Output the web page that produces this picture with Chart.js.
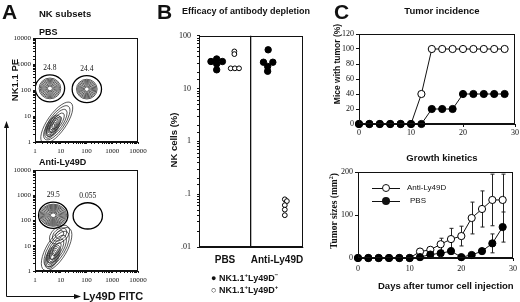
<!DOCTYPE html>
<html>
<head>
<meta charset="utf-8">
<script src="https://cdn.jsdelivr.net/npm/chart.js@4.4.1/dist/chart.umd.min.js"></script>
<style>
  html, body { margin: 0; padding: 0; background: #fff; }
  #fig { position: relative; width: 520px; height: 302px; overflow: hidden;
         font-family: "Liberation Sans", Arial, sans-serif; color: #111; }
  #fig canvas { position: absolute; }
  .t { position: absolute; white-space: nowrap; font-weight: bold; line-height: 1; }
  .letter { font-size: 21px; }
  .rot { transform: translate(-50%, -50%) rotate(-90deg); }
  .ctr { transform: translateX(-50%); }
  .key { position: absolute; }
</style>
</head>
<body>
<div id="fig">
  <canvas id="cA1" width="140" height="126" style="left:12px;top:32px"></canvas>
  <canvas id="cA2" width="140" height="123" style="left:12px;top:164px"></canvas>
  <canvas id="cB" width="136" height="245" style="left:174px;top:25px"></canvas>
  <canvas id="cC1" width="179" height="113" style="left:341px;top:27px"></canvas>
  <canvas id="cC2" width="180" height="112" style="left:340px;top:165px"></canvas>

  <svg width="520" height="302" style="position:absolute;left:0;top:0">
    <path d="M6.5 296.5 V127 M6.5 296.5 H75" stroke="#111" stroke-width="1" fill="none"/>
    <polygon points="6.5,121 4,128 9,128" fill="#111"/>
    <polygon points="81,296.5 74,294 74,299" fill="#111"/>
  </svg>

  <!-- panel A -->
  <div class="t letter" style="left:2px;top:1px">A</div>
  <div class="t" style="left:39px;top:9px;font-size:9.5px">NK subsets</div>
  <div class="t" style="left:39px;top:28px;font-size:9px">PBS</div>
  <div class="t" style="left:39px;top:158px;font-size:9px">Anti-Ly49D</div>
  <div class="t rot" style="left:15px;top:80px;font-size:9.5px">NK1.1 PE</div>
  <div class="t" style="left:83px;top:291px;font-size:11px">Ly49D FITC</div>

  <!-- panel B -->
  <div class="t letter" style="left:157px;top:1px">B</div>
  <div class="t" style="left:182px;top:7px;font-size:9px">Efficacy of antibody depletion</div>
  <div class="t rot" style="left:174px;top:140px;font-size:9.5px">NK cells (%)</div>
  <div class="t" style="left:211px;top:272px;font-size:9px">&#9679; NK1.1<sup style="font-size:6px">+</sup>Ly49D<sup style="font-size:6px">&minus;</sup></div>
  <div class="t" style="left:211px;top:284px;font-size:9px">&#9675; NK1.1<sup style="font-size:6px">+</sup>Ly49D<sup style="font-size:6px">+</sup></div>

  <!-- panel C -->
  <div class="t letter" style="left:334px;top:1px">C</div>
  <div class="t ctr" style="left:442px;top:6px;font-size:9.5px">Tumor incidence</div>
  <div class="t rot" style="left:337px;top:64px;font-size:8.5px">Mice with tumor (%)</div>
  <div class="t ctr" style="left:442px;top:153px;font-size:9.5px">Growth kinetics</div>
  <div class="t rot" style="left:334px;top:211px;font-size:9.5px;font-family:'Liberation Serif',serif">Tumor sizes (mm<sup style="font-size:6px">2</sup>)</div>
  <div class="t" style="left:378px;top:281px;font-size:9.5px">Days after tumor cell injection</div>

  <div class="key" style="left:372px;top:188px;width:28px;height:1px;background:#111"></div>
  <div class="key" style="left:382px;top:184px;width:6px;height:6px;border:1px solid #111;border-radius:50%;background:#fff"></div>
  <div class="t" style="left:407px;top:184px;font-size:8px;font-weight:normal">Anti-Ly49D</div>
  <div class="key" style="left:372px;top:201px;width:28px;height:1px;background:#111"></div>
  <div class="key" style="left:382px;top:197px;width:8px;height:8px;border-radius:50%;background:#111"></div>
  <div class="t" style="left:410px;top:197px;font-size:8px;font-weight:normal">PBS</div>
</div>

<script>
// Panel A: gates (fluorescence units) and percentages printed above them
const pbsGateX = [3.8, 103];
const pbsGateY = [116, 109];
const pbsGatePct = ['24.8', '24.4'];
const antiGateX = [5.1, 112];
const antiGateY = [163, 154];
const antiGatePct = ['29.5', '0.055'];

// Panel A: cell populations, centre in fluorescence units, spread in decades
const pbsPopX = [3.8, 103, 7, 4.8];
const pbsPopY = [116, 109, 5.5, 3.9];
const pbsPopSpread = [[0.42, 0.4], [0.4, 0.38], [0.95, 0.36], [0.5, 0.22]];
const pbsPopTilt = [0, 0, -55, -62];
const pbsPopRings = [8, 8, 5, 6];
const antiPopX = [5.1, 6.9, 4.8, 9];
const antiPopY = [163, 7.4, 3.7, 28];
const antiPopSpread = [[0.52, 0.44], [0.95, 0.4], [0.5, 0.24], [0.45, 0.3]];
const antiPopTilt = [0, -59, -65, -40];
const antiPopRings = [10, 5, 6, 3];

// Panel B: NK cells (%) per mouse, x = group index + jitter
const groups = ['PBS', 'Anti-Ly49D'];
const pbsNegX = [-0.27, -0.16, -0.05, -0.16, -0.16];
const pbsNegY = [32.6, 36.4, 32.6, 29.4, 22.7];
const pbsPosX = [0.18, 0.18, 0.11, 0.19, 0.27];
const pbsPosY = [50.6, 45, 24.2, 24.2, 24.2];
const antiNegX = [0.83, 0.74, 0.92, 0.82, 0.82];
const antiNegY = [54.3, 31.6, 31.6, 26.3, 21.3];
const antiPosX = [1.15, 1.19, 1.15, 1.15, 1.15];
const antiPosY = [0.08, 0.074, 0.062, 0.051, 0.04];

// Panel C: days after injection
const days = [0, 2, 4, 6, 8, 10, 12, 14, 16, 18, 20, 22, 24, 26, 28];
const incidencePbs = [0, 0, 0, 0, 0, 0, 0, 20, 20, 20, 40, 40, 40, 40, 40];
const incidenceAnti = [0, 0, 0, 0, 0, 0, 40, 100, 100, 100, 100, 100, 100, 100, 100];
const sizePbs = [0, 0, 0, 0, 0, 0, 2, 8, 11, 16, 2, 7, 16, 34, 72];
const sizePbsErr = [0, 0, 0, 0, 0, 0, 0, 3, 5, 7, 0, 4, 6, 22, 35];
const sizeAnti = [0, 0, 0, 0, 0, 0, 15, 19, 32, 44, 51, 93, 114, 135, 135];
const sizeAntiErr = [0, 0, 0, 0, 0, 0, 0, 0, 14, 25, 23, 37, 42, 60, 60];

const SERIF = '"Liberation Serif", "Times New Roman", serif';
const SANS = '"Liberation Sans", Arial, sans-serif';
const INK = '#111';

Chart.defaults.animation = false;
Chart.defaults.responsive = false;
Chart.defaults.plugins.legend.display = false;
Chart.defaults.plugins.tooltip.enabled = false;

// box around the plot area
const frame = {
  id: 'frame',
  afterDraw(chart) {
    const { ctx, chartArea: a } = chart;
    ctx.save();
    ctx.strokeStyle = INK;
    ctx.lineWidth = 1;
    ctx.strokeRect(Math.round(a.left) + 0.5, Math.round(a.top) + 0.5,
      Math.round(a.right - a.left) - 1, Math.round(a.bottom - a.top) - 1);
    ctx.restore();
  }
};

const isDecade = v => Math.abs(Math.log10(v) - Math.round(Math.log10(v))) < 1e-6;
const decadeLabel = v => {
  const e = Math.round(Math.log10(v));
  return e >= 0 ? String(Math.pow(10, e)) : '.' + '0'.repeat(-e - 1) + '1';
};

function fixSize(size) {
  return s => { if (s.isHorizontal()) s.height = size; else s.width = size; };
}

function logAxis(min, max, size, fontSize, pad) {
  return {
    type: 'logarithmic', min, max,
    afterFit: fixSize(size),
    border: { color: INK },
    grid: { drawOnChartArea: false, tickLength: 2, color: INK },
    ticks: {
      autoSkip: false, maxRotation: 0, color: INK, padding: pad,
      font: { family: SERIF, size: fontSize },
      callback: v => isDecade(v) ? decadeLabel(v) : ''
    }
  };
}

// contour rings for each population and the round gates
function flowLayer(popX, popY, spread, tilt, rings, gateX, gateY, gatePct) {
  return {
    id: 'flowLayer',
    afterDatasetsDraw(chart) {
      const { ctx, chartArea: a, scales: { x, y } } = chart;
      const dx = x.getPixelForValue(10) - x.getPixelForValue(1);
      const dy = y.getPixelForValue(1) - y.getPixelForValue(10);
      ctx.save();
      ctx.beginPath();
      ctx.rect(a.left, a.top, a.right - a.left, a.bottom - a.top);
      ctx.clip();
      ctx.strokeStyle = '#222';
      ctx.lineWidth = 0.75;
      popX.forEach((px, i) => {
        const cx = x.getPixelForValue(px), cy = y.getPixelForValue(popY[i]);
        for (let r = 0; r < rings[i]; r++) {
          const k = 1 - r / rings[i] * 0.88;
          ctx.beginPath();
          ctx.ellipse(cx, cy, spread[i][0] * dx * k, spread[i][1] * dy * k,
            tilt[i] * Math.PI / 180, 0, Math.PI * 2);
          ctx.stroke();
        }
      });
      ctx.strokeStyle = '#000';
      ctx.lineWidth = 1.3;
      ctx.fillStyle = INK;
      ctx.font = '7.5px ' + SERIF;
      ctx.textAlign = 'center';
      gateX.forEach((gx, i) => {
        const cx = x.getPixelForValue(gx), cy = y.getPixelForValue(gateY[i]);
        const rx = 0.57 * dx, ry = 0.52 * dy;
        ctx.beginPath();
        ctx.ellipse(cx, cy, rx, ry, 0, 0, Math.PI * 2);
        ctx.stroke();
        ctx.fillText(gatePct[i], cx, cy - ry - 5);
      });
      ctx.restore();
    }
  };
}

function flowChart(id, popX, popY, spread, tilt, rings, gateX, gateY, gatePct) {
  new Chart(document.getElementById(id), {
    type: 'scatter',
    data: { datasets: [] },
    options: {
      layout: { padding: { top: 6, right: 14 } },
      scales: {
        x: logAxis(1, 10000, 16, 7, 3),
        y: logAxis(1, 10000, 23, 7, 2)
      }
    },
    plugins: [flowLayer(popX, popY, spread, tilt, rings, gateX, gateY, gatePct), frame]
  });
}

flowChart('cA1', pbsPopX, pbsPopY, pbsPopSpread, pbsPopTilt, pbsPopRings, pbsGateX, pbsGateY, pbsGatePct);
flowChart('cA2', antiPopX, antiPopY, antiPopSpread, antiPopTilt, antiPopRings, antiGateX, antiGateY, antiGatePct);

// Panel B
const pts = (xs, ys) => xs.map((x, i) => ({ x, y: ys[i] }));
const filled = { pointRadius: 3.2, pointBackgroundColor: '#000', pointBorderColor: '#000', pointBorderWidth: 1 };
const hollow = { pointRadius: 2.4, pointBackgroundColor: '#fff', pointBorderColor: '#000', pointBorderWidth: 1 };

new Chart(document.getElementById('cB'), {
  type: 'scatter',
  data: {
    datasets: [
      { data: pts(pbsNegX, pbsNegY), ...filled },
      { data: pts(pbsPosX, pbsPosY), ...hollow },
      { data: pts(antiNegX, antiNegY), ...filled },
      { data: pts(antiPosX, antiPosY), ...hollow }
    ]
  },
  options: {
    layout: { padding: { top: 8, right: 7 } },
    scales: {
      x: {
        type: 'linear', min: -0.5, max: 1.5,
        afterFit: fixSize(23),
        afterBuildTicks: ax => { ax.ticks = [-0.5, 0, 0.5, 1, 1.5].map(value => ({ value })); },
        border: { color: INK },
        grid: {
          drawTicks: false, lineWidth: 1.3,
          color: c => c.tick && c.tick.value === 0.5 ? INK : 'rgba(0,0,0,0)'
        },
        ticks: {
          autoSkip: false, maxRotation: 0, color: INK, padding: 7,
          font: { family: SANS, size: 10, weight: 'bold' },
          callback: v => v === 0 ? groups[0] : v === 1 ? groups[1] : ''
        }
      },
      y: logAxis(0.01, 100, 25, 8, 6)
    }
  },
  plugins: [frame]
});

// Panel C
const series = vals => days.map((d, i) => ({ x: d, y: vals[i] }));
const lineStyle = { borderColor: INK, borderWidth: 1, pointRadius: 3.6, pointBorderWidth: 1,
  pointBorderColor: '#000', clip: false };

function linAxis(min, max, step, size, pad) {
  return {
    type: 'linear', min, max,
    afterFit: fixSize(size),
    border: { color: INK },
    grid: { drawOnChartArea: false, tickLength: 3, color: INK },
    ticks: { stepSize: step, color: INK, padding: pad, maxRotation: 0,
      font: { family: SERIF, size: 8 } }
  };
}

function errorBars(pairs) {
  return {
    id: 'errorBars',
    beforeDatasetsDraw(chart) {
      const { ctx, scales: { x, y } } = chart;
      ctx.save();
      ctx.strokeStyle = '#222';
      ctx.lineWidth = 1;
      pairs.forEach(([vals, errs]) => {
        days.forEach((d, i) => {
          if (!errs[i]) return;
          const px = Math.round(x.getPixelForValue(d)) + 0.5;
          const top = y.getPixelForValue(vals[i] + errs[i]);
          const bot = y.getPixelForValue(Math.max(0, vals[i] - errs[i]));
          ctx.beginPath();
          ctx.moveTo(px, bot); ctx.lineTo(px, top);
          ctx.moveTo(px - 2, top); ctx.lineTo(px + 2, top);
          ctx.moveTo(px - 2, bot); ctx.lineTo(px + 2, bot);
          ctx.stroke();
        });
      });
      ctx.restore();
    }
  };
}

new Chart(document.getElementById('cC1'), {
  type: 'line',
  data: {
    datasets: [
      { data: series(incidencePbs), ...lineStyle, pointBackgroundColor: '#000' },
      { data: series(incidenceAnti), ...lineStyle, pointBackgroundColor: '#fff' }
    ]
  },
  options: {
    layout: { padding: { top: 7, right: 5 } },
    scales: { x: linAxis(0, 30, 10, 16, 1), y: linAxis(0, 120, 20, 18, 2) }
  },
  plugins: [frame]
});

new Chart(document.getElementById('cC2'), {
  type: 'line',
  data: {
    datasets: [
      { data: series(sizePbs), ...lineStyle, pointBackgroundColor: '#000' },
      { data: series(sizeAnti), ...lineStyle, pointBackgroundColor: '#fff' }
    ]
  },
  options: {
    layout: { padding: { top: 7, right: 5 } },
    scales: { x: linAxis(0, 30, 10, 19, 3), y: linAxis(0, 200, 100, 18, 2) }
  },
  plugins: [errorBars([[sizePbs, sizePbsErr], [sizeAnti, sizeAntiErr]]), frame]
});
</script>
</body>
</html>
